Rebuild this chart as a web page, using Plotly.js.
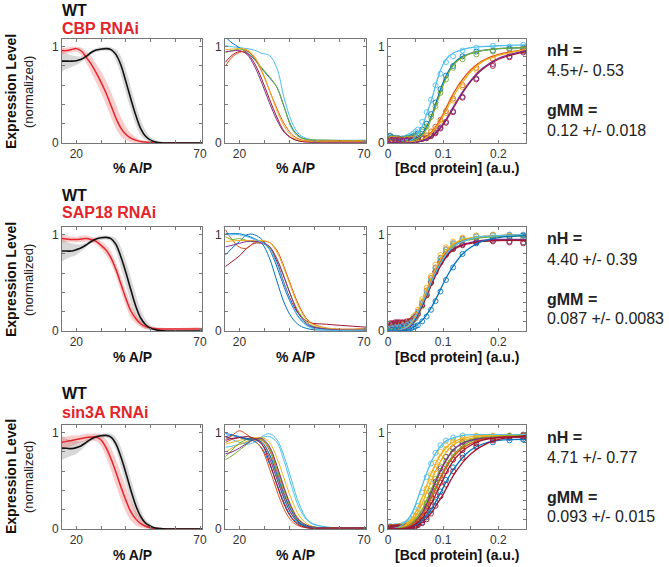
<!DOCTYPE html>
<html><head><meta charset="utf-8">
<script src="https://cdn.plot.ly/plotly-3.0.1.min.js"></script>
<style>html,body{margin:0;padding:0;background:#fff}#chart{width:669px;height:567px}</style>
</head><body><div id="chart"></div>
<script>
// ================= DATA =================
// Column 1: mean profiles (WT vs RNAi) with error bands, x = % A/P
const AP = [14.2,16,18,20,22,24,26,28,30,32,34,36,38,40,42,44,46,48,50,52,55,60,70.8];
// Row 1 (CBP RNAi)
const r1WT    = [0.85,0.85,0.85,0.855,0.87,0.9,0.94,0.965,0.975,0.98,0.97,0.92,0.81,0.64,0.46,0.29,0.15,0.07,0.03,0.01,0,0,0];
const r1WTHi  = [0.95,0.93,0.91,0.9,0.9,0.92,0.96,0.985,0.995,1.0,0.995,0.97,0.9,0.76,0.58,0.4,0.24,0.13,0.06,0.03,0.01,0,0];
const r1WTLo  = [0.74,0.77,0.79,0.81,0.84,0.88,0.92,0.945,0.955,0.96,0.945,0.86,0.71,0.52,0.35,0.19,0.08,0.03,0.01,0,0,0,0];
const r1KD    = [0.96,0.96,0.97,0.98,0.955,0.89,0.82,0.73,0.63,0.52,0.39,0.26,0.155,0.09,0.05,0.03,0.015,0.01,0.005,0,0,0,0];
const r1KDHi  = [0.99,0.99,1.0,1.0,0.99,0.95,0.9,0.82,0.74,0.65,0.53,0.4,0.27,0.17,0.1,0.06,0.03,0.02,0.01,0,0,0,0];
const r1KDLo  = [0.92,0.93,0.94,0.95,0.91,0.83,0.73,0.63,0.52,0.4,0.27,0.15,0.07,0.03,0.01,0,0,0,0,0,0,0,0];
// Row 2 (SAP18 RNAi)
const r2WT    = [0.83,0.83,0.83,0.845,0.865,0.895,0.93,0.955,0.968,0.972,0.96,0.9,0.77,0.61,0.43,0.26,0.135,0.065,0.03,0.012,0.003,0,0];
const r2WTHi  = [0.95,0.93,0.91,0.9,0.9,0.92,0.95,0.975,0.99,0.99,0.985,0.96,0.87,0.73,0.56,0.38,0.22,0.12,0.06,0.03,0.01,0,0];
const r2WTLo  = [0.72,0.75,0.77,0.79,0.83,0.87,0.91,0.935,0.945,0.95,0.93,0.83,0.66,0.48,0.3,0.15,0.06,0.02,0.01,0,0,0,0];
const r2KD    = [0.96,0.955,0.95,0.95,0.955,0.96,0.95,0.93,0.89,0.84,0.76,0.64,0.49,0.34,0.21,0.13,0.075,0.045,0.03,0.025,0.02,0.02,0.02];
const r2KDHi  = [1.0,0.99,0.98,0.98,0.99,0.99,0.98,0.96,0.93,0.89,0.82,0.71,0.57,0.42,0.28,0.18,0.11,0.07,0.05,0.04,0.035,0.03,0.03];
const r2KDLo  = [0.92,0.925,0.925,0.92,0.925,0.93,0.92,0.9,0.85,0.79,0.7,0.57,0.41,0.26,0.14,0.08,0.04,0.02,0.01,0.01,0.01,0.01,0.01];
// Row 3 (sin3A RNAi)
const r3WT    = [0.84,0.838,0.835,0.845,0.865,0.9,0.935,0.958,0.968,0.972,0.955,0.885,0.75,0.585,0.405,0.245,0.13,0.06,0.03,0.01,0.003,0,0];
const r3WTHi  = [0.96,0.94,0.92,0.91,0.91,0.93,0.96,0.98,0.99,0.995,0.99,0.95,0.85,0.7,0.52,0.35,0.2,0.1,0.05,0.02,0.01,0,0];
const r3WTLo  = [0.72,0.74,0.76,0.78,0.82,0.87,0.91,0.935,0.945,0.95,0.92,0.82,0.65,0.47,0.29,0.14,0.06,0.02,0.01,0,0,0,0];
const r3KD    = [0.9,0.91,0.92,0.93,0.94,0.95,0.955,0.955,0.925,0.845,0.73,0.59,0.44,0.3,0.18,0.105,0.055,0.028,0.012,0.005,0,0,0];
const r3KDHi  = [0.96,0.96,0.97,0.97,0.98,0.99,0.99,0.99,0.98,0.93,0.84,0.72,0.58,0.44,0.3,0.19,0.11,0.06,0.03,0.015,0.005,0,0];
const r3KDLo  = [0.82,0.84,0.86,0.88,0.9,0.91,0.92,0.91,0.86,0.75,0.61,0.46,0.31,0.18,0.09,0.04,0.015,0.005,0,0,0,0,0];

// Column 2: individual embryo profiles, x = % A/P
const AP2 = [14.4,17,20,23,26,29,32,35,38,41,44,48,55,70.8];
const r1ProfColors = ['cyan','blue','green','purple','darkred','orange','yellow'];
const r1Profiles = [
  [1.01,1.0,0.99,0.98,0.965,0.93,0.91,0.78,0.46,0.22,0.09,0.04,0.03,0.03],
  [1.1,1.04,0.99,0.94,0.87,0.77,0.68,0.58,0.37,0.165,0.07,0.03,0.02,0.02],
  [0.94,0.96,0.975,0.96,0.88,0.78,0.69,0.58,0.37,0.15,0.06,0.035,0.03,0.02],
  [0.95,0.955,0.96,0.92,0.8,0.62,0.42,0.24,0.11,0.05,0.02,0.01,0.01,0.01],
  [0.84,0.91,0.95,0.93,0.83,0.66,0.46,0.27,0.12,0.05,0.02,0.01,0.01,0.01],
  [0.8,0.89,0.94,0.955,0.88,0.74,0.55,0.36,0.2,0.09,0.04,0.02,0.02,0.02],
  [0.97,0.975,0.98,0.97,0.9,0.75,0.55,0.34,0.17,0.07,0.03,0.02,0.02,0.02]
];
const r2ProfColors = ['darkred','orange','blue','blue','green','yellow','purple','cyan'];
const r2Profiles = [
  [0.67,0.72,0.78,0.86,0.91,0.91,0.87,0.72,0.49,0.3,0.17,0.09,0.07,0.04],
  [1.05,0.95,0.87,0.86,0.92,0.93,0.92,0.84,0.66,0.45,0.26,0.1,0.03,0.025],
  [0.79,0.86,0.93,1.0,1.0,0.95,0.85,0.67,0.45,0.27,0.14,0.05,0.02,0.01],
  [1.01,1.01,1.01,0.99,0.96,0.91,0.76,0.52,0.29,0.14,0.06,0.02,0.01,0.01],
  [0.98,0.95,0.96,0.94,0.93,0.92,0.87,0.75,0.56,0.35,0.19,0.07,0.02,0.01],
  [0.93,0.935,0.94,0.94,0.94,0.94,0.92,0.82,0.64,0.43,0.24,0.09,0.03,0.02],
  [0.875,0.89,0.91,0.93,0.93,0.92,0.88,0.75,0.55,0.34,0.17,0.06,0.02,0.01],
  [1.0,1.0,1.0,0.98,0.95,0.92,0.85,0.7,0.48,0.28,0.13,0.04,0.01,0.01]
];
const r3ProfColors = ['cyan','cyan','yellow','yellow','orange','green','green','purple','purple','blue','blue','orange','darkred'];
const r3Profiles = [
  [0.95,0.93,0.9,0.88,0.9,0.96,0.99,0.93,0.75,0.5,0.26,0.08,0.02,0.01],
  [0.85,0.86,0.88,0.9,0.93,0.95,0.96,0.9,0.7,0.44,0.22,0.07,0.02,0.01],
  [0.8,0.84,0.88,0.91,0.94,0.95,0.9,0.74,0.52,0.3,0.14,0.04,0.01,0.01],
  [0.88,0.9,0.92,0.94,0.95,0.93,0.85,0.66,0.43,0.23,0.1,0.03,0.01,0.01],
  [0.9,0.93,0.95,0.93,0.93,0.92,0.82,0.6,0.37,0.18,0.07,0.02,0.01,0.01],
  [0.72,0.76,0.82,0.88,0.93,0.93,0.84,0.63,0.4,0.2,0.08,0.02,0.01,0.01],
  [0.75,0.82,0.89,0.93,0.94,0.9,0.77,0.55,0.32,0.15,0.06,0.02,0.01,0.01],
  [0.78,0.8,0.84,0.89,0.93,0.94,0.86,0.66,0.42,0.22,0.09,0.03,0.01,0.01],
  [0.92,0.94,0.95,0.94,0.93,0.88,0.74,0.52,0.31,0.15,0.06,0.02,0.01,0.01],
  [0.99,0.98,0.96,0.94,0.93,0.9,0.78,0.57,0.35,0.18,0.07,0.02,0.01,0.01],
  [0.96,0.97,0.95,0.93,0.91,0.84,0.68,0.47,0.27,0.12,0.05,0.01,0.01,0.01],
  [0.93,0.97,1.02,0.98,0.92,0.83,0.63,0.4,0.2,0.08,0.03,0.01,0.01,0.01],
  [0.96,0.94,0.95,0.96,0.94,0.88,0.7,0.46,0.25,0.11,0.04,0.01,0.01,0.01]
];

// Column 3: expression vs [Bcd protein]; fitted curves (BCD grid) + measured points (BM / BM2 grids)
const BCD = [0,0.02,0.04,0.06,0.07,0.08,0.09,0.1,0.11,0.12,0.135,0.15,0.17,0.2,0.25];
const BM  = [0.004,0.01,0.016,0.022,0.03,0.038,0.046,0.054,0.062,0.07,0.078,0.086,0.095,0.105,0.118,0.135,0.16,0.19,0.22,0.245];
const BM2 = [0.007,0.013,0.019,0.026,0.034,0.042,0.05];
const r1FitColors = ['cyan','blue','green','orange','yellow','darkred','purple'];
const r1Fits = [
  [0,0,0.02,0.15,0.3,0.47,0.67,0.82,0.9,0.94,0.97,0.99,1.0,1.01,1.02],
  [0,0,0.01,0.08,0.17,0.3,0.47,0.63,0.75,0.83,0.9,0.93,0.96,0.98,0.99],
  [0,0,0.01,0.07,0.15,0.28,0.44,0.6,0.73,0.82,0.89,0.93,0.96,0.98,0.99],
  [0,0,0.01,0.03,0.07,0.12,0.2,0.3,0.42,0.53,0.66,0.76,0.85,0.92,0.97],
  [0,0,0.01,0.03,0.06,0.11,0.18,0.28,0.39,0.5,0.63,0.74,0.84,0.91,0.97],
  [0,0,0,0.02,0.04,0.07,0.12,0.19,0.28,0.38,0.52,0.64,0.76,0.87,0.95],
  [0,0,0,0.02,0.04,0.08,0.13,0.2,0.29,0.39,0.53,0.65,0.77,0.88,0.96]
];
const r1Points = [
  [0.08,0.05,0.04,0.04,0.05,0.07,0.1,0.14,0.22,0.32,0.45,0.6,0.72,0.84,0.9,0.96,0.99,1.01,1.0,1.02],
  [0.07,0.05,0.04,0.04,0.04,0.05,0.07,0.1,0.14,0.2,0.3,0.42,0.56,0.7,0.8,0.9,0.95,0.96,0.98,0.99],
  [0.05,0.04,0.05,0.04,0.04,0.05,0.06,0.08,0.12,0.17,0.27,0.38,0.52,0.66,0.78,0.87,0.92,0.95,0.97,0.98],
  [0.04,0.04,0.03,0.03,0.03,0.03,0.04,0.05,0.06,0.08,0.12,0.17,0.24,0.33,0.46,0.6,0.78,0.87,0.93,0.97],
  [0.03,0.03,0.03,0.04,0.03,0.04,0.04,0.05,0.06,0.07,0.11,0.15,0.22,0.31,0.44,0.58,0.76,0.88,0.93,0.96],
  [0.03,0.03,0.02,0.03,0.03,0.03,0.03,0.04,0.04,0.05,0.07,0.1,0.15,0.21,0.32,0.47,0.66,0.8,0.89,0.94],
  [0.03,0.02,0.03,0.02,0.03,0.03,0.03,0.04,0.05,0.05,0.08,0.11,0.16,0.22,0.33,0.48,0.67,0.82,0.9,0.95]
];
const r1LowPoints = [
  [0.06,0.05,0.04,0.05,0.06,0.08,0.12],
  [0.06,0.05,0.05,0.04,0.05,0.06,0.08],
  [0.05,0.05,0.04,0.04,0.05,0.05,0.07],
  [0.04,0.03,0.04,0.03,0.03,0.04,0.04],
  [0.04,0.04,0.03,0.03,0.04,0.04,0.05],
  [0.03,0.03,0.03,0.02,0.03,0.03,0.04],
  [0.03,0.03,0.02,0.03,0.03,0.03,0.03]
];
const r2FitColors = ['orange','yellow','green','purple','darkred','cyan','blue'];
const r2Fits = [
  [0,0.01,0.06,0.27,0.41,0.55,0.67,0.77,0.85,0.9,0.94,0.96,0.98,0.99,1.0],
  [0,0.01,0.07,0.29,0.43,0.57,0.69,0.79,0.86,0.91,0.95,0.97,0.98,0.99,1.0],
  [0,0.01,0.05,0.23,0.36,0.5,0.63,0.74,0.82,0.88,0.93,0.95,0.97,0.98,0.99],
  [0,0.01,0.05,0.24,0.37,0.51,0.63,0.73,0.81,0.86,0.9,0.92,0.94,0.95,0.95],
  [0,0.01,0.05,0.24,0.37,0.5,0.62,0.72,0.8,0.85,0.89,0.91,0.93,0.94,0.94],
  [0,0.01,0.06,0.26,0.39,0.53,0.65,0.75,0.83,0.89,0.93,0.96,0.98,0.99,1.0],
  [0,0,0.02,0.1,0.17,0.26,0.37,0.49,0.6,0.69,0.8,0.87,0.93,0.97,0.99]
];
const r2Points = [
  [0.05,0.05,0.06,0.06,0.07,0.09,0.13,0.2,0.3,0.42,0.55,0.66,0.76,0.85,0.91,0.96,0.99,1.0,1.0,1.0],
  [0.04,0.05,0.05,0.06,0.07,0.1,0.15,0.22,0.33,0.45,0.57,0.69,0.79,0.87,0.93,0.97,0.99,1.0,0.99,0.99],
  [0.04,0.04,0.05,0.05,0.06,0.08,0.11,0.17,0.26,0.37,0.5,0.62,0.73,0.82,0.89,0.94,0.96,0.97,0.97,0.96],
  [0.06,0.06,0.07,0.07,0.08,0.09,0.12,0.18,0.27,0.38,0.51,0.62,0.72,0.8,0.86,0.9,0.93,0.94,0.93,0.92],
  [0.08,0.08,0.09,0.09,0.09,0.1,0.13,0.18,0.27,0.37,0.5,0.61,0.71,0.79,0.85,0.89,0.92,0.93,0.92,0.91],
  [0.03,0.03,0.04,0.04,0.05,0.08,0.12,0.19,0.29,0.4,0.53,0.65,0.75,0.84,0.91,0.95,0.98,0.99,1.0,1.0],
  [0,0.01,0.01,0.01,0.02,0.02,0.04,0.06,0.1,0.15,0.22,0.31,0.41,0.53,0.66,0.8,0.91,0.96,0.98,0.99]
];
const r2LowPoints = [
  [0.05,0.06,0.06,0.06,0.08,0.1,0.15],
  [0.05,0.05,0.06,0.07,0.08,0.11,0.17],
  [0.04,0.05,0.05,0.06,0.07,0.09,0.13],
  [0.06,0.07,0.07,0.08,0.08,0.1,0.14],
  [0.08,0.09,0.09,0.09,0.1,0.11,0.15],
  [0.03,0.04,0.04,0.05,0.06,0.09,0.14],
  [0.01,0.01,0.01,0.02,0.02,0.03,0.05]
];
const r3FitColors = ['cyan','yellow','yellow','green','green','purple','orange','blue','darkred','darkred'];
const r3Fits = [
  [0,0.02,0.13,0.42,0.58,0.72,0.82,0.89,0.93,0.95,0.97,0.98,0.98,0.98,0.98],
  [0,0.01,0.08,0.3,0.45,0.6,0.72,0.81,0.87,0.91,0.94,0.96,0.97,0.97,0.97],
  [0,0.01,0.06,0.24,0.38,0.52,0.65,0.75,0.83,0.88,0.92,0.94,0.96,0.97,0.97],
  [0,0.01,0.04,0.18,0.3,0.43,0.56,0.67,0.76,0.83,0.89,0.93,0.95,0.96,0.96],
  [0,0,0.03,0.14,0.24,0.36,0.48,0.6,0.7,0.78,0.86,0.91,0.94,0.96,0.97],
  [0,0,0.03,0.15,0.26,0.4,0.54,0.66,0.76,0.83,0.89,0.92,0.94,0.95,0.95],
  [0,0,0.03,0.13,0.22,0.34,0.46,0.58,0.68,0.76,0.84,0.89,0.93,0.95,0.96],
  [0,0,0.01,0.08,0.14,0.22,0.32,0.43,0.54,0.63,0.74,0.82,0.88,0.92,0.93],
  [0,0,0.01,0.06,0.11,0.18,0.27,0.36,0.47,0.57,0.69,0.78,0.86,0.93,0.97],
  [0,0,0.02,0.1,0.18,0.28,0.4,0.52,0.63,0.72,0.81,0.87,0.92,0.95,0.96]
];
const r3Points = [
  [0.03,0.02,0.03,0.03,0.05,0.08,0.14,0.24,0.38,0.54,0.68,0.79,0.87,0.92,0.95,0.97,0.96,0.95,0.94,0.93],
  [0.02,0.02,0.02,0.03,0.04,0.06,0.1,0.17,0.28,0.42,0.57,0.69,0.8,0.87,0.92,0.95,0.97,0.97,0.96,0.96],
  [0.02,0.02,0.02,0.02,0.03,0.05,0.08,0.14,0.23,0.35,0.49,0.62,0.74,0.83,0.9,0.93,0.96,0.96,0.97,0.97],
  [0.02,0.02,0.02,0.02,0.03,0.04,0.06,0.1,0.17,0.27,0.4,0.52,0.65,0.75,0.84,0.9,0.94,0.95,0.96,0.95],
  [0.02,0.01,0.02,0.02,0.02,0.03,0.05,0.08,0.13,0.21,0.32,0.44,0.58,0.7,0.8,0.88,0.93,0.96,0.97,0.97],
  [0.02,0.02,0.02,0.02,0.02,0.03,0.05,0.08,0.14,0.23,0.36,0.49,0.63,0.75,0.84,0.9,0.93,0.94,0.95,0.95],
  [0.02,0.02,0.02,0.02,0.02,0.03,0.04,0.07,0.11,0.19,0.3,0.42,0.55,0.67,0.78,0.86,0.92,0.95,0.96,0.96],
  [0.01,0.01,0.01,0.01,0.01,0.02,0.03,0.04,0.07,0.12,0.19,0.28,0.39,0.51,0.64,0.77,0.86,0.9,0.92,0.93],
  [0.01,0.01,0.01,0.01,0.01,0.01,0.02,0.04,0.06,0.1,0.16,0.24,0.34,0.46,0.6,0.74,0.85,0.92,0.96,0.98],
  [0.01,0.01,0.01,0.02,0.02,0.02,0.03,0.05,0.09,0.15,0.24,0.35,0.48,0.6,0.72,0.82,0.89,0.93,0.95,0.96]
];
const r3LowPoints = [
  [0.02,0.03,0.03,0.04,0.06,0.1,0.18],
  [0.02,0.02,0.03,0.03,0.05,0.07,0.13],
  [0.02,0.02,0.02,0.03,0.04,0.06,0.1],
  [0.02,0.02,0.02,0.02,0.03,0.05,0.08],
  [0.01,0.02,0.02,0.02,0.03,0.04,0.06],
  [0.02,0.02,0.02,0.02,0.03,0.04,0.06],
  [0.02,0.02,0.02,0.02,0.03,0.03,0.05],
  [0.01,0.01,0.01,0.01,0.02,0.02,0.03],
  [0.01,0.01,0.01,0.01,0.01,0.02,0.03],
  [0.01,0.01,0.02,0.02,0.02,0.03,0.04]
];

// Text
const kdNames  = ['CBP RNAi','SAP18 RNAi','sin3A RNAi'];
const nHText   = ['4.5+/- 0.53','4.40 +/- 0.39','4.71 +/- 0.77'];
const gMMText  = ['0.12 +/- 0.018','0.087 +/- 0.0083','0.093 +/- 0.015'];
const apTicks  = [20,30,40,50,60,70];
const apLabels = ['20','','','','','70'];
const bcdTicks = [0,0.05,0.1,0.15,0.2];
const bcdLabels= ['0','','0.1','','0.2'];

// ================= DRAWING =================
const W = 669, H = 567;
const PAL = {blue:'#0072BD',orange:'#D95319',yellow:'#EDB120',purple:'#7E2F8E',green:'#77AC30',cyan:'#4DBEEE',darkred:'#A2142F'};
const FONT = 'Liberation Sans, Arial, sans-serif';
const colPx = [[62,202],[225,366],[388,526]];
const rowPx = [[39,143],[227,331],[425,529]];
const fx = p => p / W, fy = p => 1 - p / H;

const traces = [];
const layout = {
  width: W, height: H, margin: {l:0,r:0,t:0,b:0},
  paper_bgcolor: '#fff', plot_bgcolor: '#fff', showlegend: false,
  font: {family: FONT, color: '#222'},
  annotations: []
};

function axisName(r, c) { const n = r*3 + c + 1; return n === 1 ? '' : String(n); }

const colData = [
  [r1WT,r1WTHi,r1WTLo,r1KD,r1KDHi,r1KDLo],
  [r2WT,r2WTHi,r2WTLo,r2KD,r2KDHi,r2KDLo],
  [r3WT,r3WTHi,r3WTLo,r3KD,r3KDHi,r3KDLo]
];
const profiles = [[r1Profiles,r1ProfColors],[r2Profiles,r2ProfColors],[r3Profiles,r3ProfColors]];
const fits = [[r1Fits,r1Points,r1LowPoints,r1FitColors],[r2Fits,r2Points,r2LowPoints,r2FitColors],[r3Fits,r3Points,r3LowPoints,r3FitColors]];

function band(x, hi, lo, color, xa, ya) {
  traces.push({x: x.concat(x.slice().reverse()), y: hi.concat(lo.slice().reverse()),
    type:'scatter', mode:'lines', fill:'toself', fillcolor: color, line:{width:0, shape:'spline'},
    xaxis: xa, yaxis: ya, hoverinfo:'skip'});
}

for (let r = 0; r < 3; r++) {
  for (let c = 0; c < 3; c++) {
    const n = axisName(r, c);
    const xa = 'x' + n, ya = 'y' + n;
    const isBcd = c === 2;
    layout['xaxis' + n] = {
      domain: [fx(colPx[c][0]), fx(colPx[c][1])], anchor: ya,
      range: isBcd ? [0, 0.25] : [14.2, 70.8],
      tickmode: 'array', tickvals: isBcd ? bcdTicks : apTicks, ticktext: isBcd ? bcdLabels : apLabels,
      ticks: 'inside', ticklen: 3, tickcolor: '#777', tickwidth: 1,
      showline: true, linecolor: '#777', linewidth: 1, mirror: 'ticks',
      showgrid: false, zeroline: false, fixedrange: true,
      tickfont: {family: FONT, size: 12, color: '#333'}
    };
    layout['yaxis' + n] = {
      domain: [fy(rowPx[r][1]), fy(rowPx[r][0])], anchor: xa,
      range: [0, 1.08],
      tickmode: 'array',
      tickvals: isBcd ? [0,0.1,0.2,0.3,0.4,0.5,0.6,0.7,0.8,0.9,1] : [0,0.2,0.4,0.6,0.8,1],
      ticktext: isBcd ? ['0','','','','','','','','','','1'] : ['0','','','','','1'],
      ticks: 'inside', ticklen: 3, tickcolor: '#777', tickwidth: 1,
      showline: true, linecolor: '#777', linewidth: 1, mirror: 'ticks',
      showgrid: false, zeroline: false, fixedrange: true,
      tickfont: {family: FONT, size: 12, color: '#333'}
    };

    if (c === 0) {
      const [wt, wtHi, wtLo, kd, kdHi, kdLo] = colData[r];
      band(AP, wtHi, wtLo, 'rgba(200,200,200,0.7)', xa, ya);
      band(AP, kdHi, kdLo, 'rgba(240,110,110,0.35)', xa, ya);
      traces.push({x: AP, y: kd, type:'scatter', mode:'lines', line:{color:'#E3242B', width:1.5, shape:'spline'}, xaxis: xa, yaxis: ya});
      traces.push({x: AP, y: wt, type:'scatter', mode:'lines', line:{color:'#111', width:1.6, shape:'spline'}, xaxis: xa, yaxis: ya});
    } else if (c === 1) {
      const [profs, cols] = profiles[r];
      profs.forEach((p, i) => traces.push({x: AP2, y: p, type:'scatter', mode:'lines',
        line:{color: PAL[cols[i]], width:1, shape:'spline'}, xaxis: xa, yaxis: ya}));
    } else {
      const [fs, ps, lows, cols] = fits[r];
      ps.forEach((p, i) => traces.push({x: BM, y: p, type:'scatter', mode:'markers',
        marker:{symbol:'circle-open', size:5, color: PAL[cols[i]], line:{width:0.9}}, xaxis: xa, yaxis: ya}));
      lows.forEach((p, i) => traces.push({x: BM2, y: p, type:'scatter', mode:'markers',
        marker:{symbol:'circle-open', size:5, color: PAL[cols[i]], line:{width:0.9}}, xaxis: xa, yaxis: ya}));
      fs.forEach((f, i) => traces.push({x: BCD, y: f, type:'scatter', mode:'lines',
        line:{color: PAL[cols[i]], width:1.3, shape:'spline'}, xaxis: xa, yaxis: ya}));
    }
  }
}

function ann(text, xp, yp, opts) {
  layout.annotations.push(Object.assign({
    text, x: fx(xp), y: fy(yp), xref:'paper', yref:'paper', showarrow:false,
    xanchor:'left', yanchor:'middle',
    font:{family: FONT, size:16, color:'#222'}
  }, opts || {}));
}

const titleY = [[10,28],[195,213],[393,412]];
const sideY = [[50,70,110,130],[238,259,299,318],[437,457,497,516]];
const yTitleC = [92,280,477];
const xTitleY = [168,357,555];
for (let r = 0; r < 3; r++) {
  ann('<b>WT</b>', 60, titleY[r][0], {font:{family: FONT, size:16, color:'#111'}});
  ann('<b>' + kdNames[r] + '</b>', 60, titleY[r][1], {font:{family: FONT, size:16, color:'#E3242B'}});
  ann('<b>nH =</b>', 545, sideY[r][0]);
  ann(nHText[r], 545, sideY[r][1]);
  ann('<b>gMM =</b>', 545, sideY[r][2]);
  ann(gMMText[r], 545, sideY[r][3]);
  ann('<b>Expression Level</b>', 11, yTitleC[r], {xanchor:'center', textangle:-90,
    font:{family: FONT, size:14, color:'#111'}});
  ann('(normalized)', 28, yTitleC[r], {xanchor:'center', textangle:-90,
    font:{family: FONT, size:13, color:'#222'}});
  ann('<b>% A/P</b>', (colPx[0][0]+colPx[0][1])/2, xTitleY[r], {xanchor:'center',
    font:{family: FONT, size:14, color:'#111'}});
  ann('<b>% A/P</b>', (colPx[1][0]+colPx[1][1])/2, xTitleY[r], {xanchor:'center',
    font:{family: FONT, size:14, color:'#111'}});
  ann('<b>[Bcd protein] (a.u.)</b>', (colPx[2][0]+colPx[2][1])/2, xTitleY[r], {xanchor:'center',
    font:{family: FONT, size:14, color:'#111'}});
}

Plotly.newPlot('chart', traces, layout, {displayModeBar:false, staticPlot:true});
</script>
</body></html>
